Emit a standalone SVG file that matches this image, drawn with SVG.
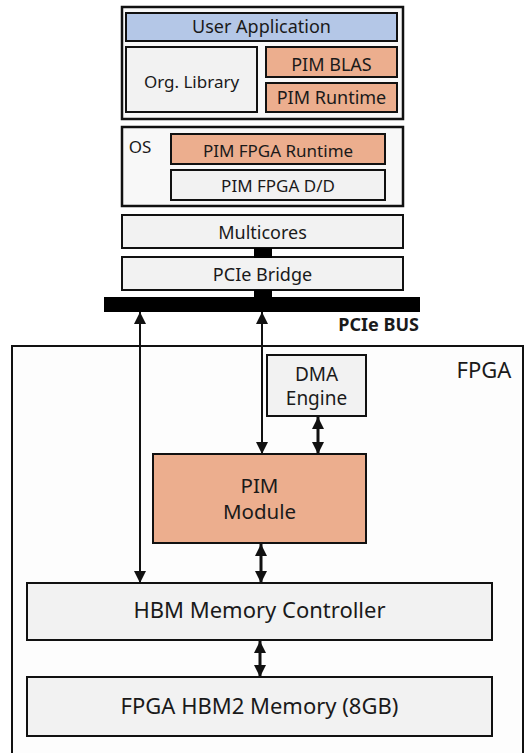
<svg xmlns="http://www.w3.org/2000/svg" width="526" height="753" viewBox="0 0 526 753">
  <defs>
    <style>
      text { font-family: "Noto Sans", "Open Sans", "Liberation Sans", sans-serif; fill: #1a1a1a; text-anchor: middle; }
      .frame { fill: #f8f8f8; stroke: #111; stroke-width: 2.5; }
      .gray { fill: #f2f2f2; stroke: #111; stroke-width: 2; }
      .blue { fill: #b4c7e7; stroke: #111; stroke-width: 2; }
      .orange { fill: #ecae8e; stroke: #111; stroke-width: 2; }
      .link { stroke: #111; stroke-width: 2; fill: none; }
      .thick { stroke: #111; stroke-width: 3; fill: none; }
    </style>
    <marker id="head" viewBox="0 0 12 12" markerUnits="userSpaceOnUse" markerWidth="12" markerHeight="13" refX="12" refY="6" orient="auto-start-reverse">
      <path d="M0,0 L12,6 L0,12 z" fill="#111"/>
    </marker>
  </defs>

  <rect width="526" height="753" fill="#ffffff"/>

  <!-- FPGA container -->
  <g id="fpga">
    <rect x="12" y="346" width="511" height="420" fill="#fdfdfd" stroke="#111" stroke-width="2"/>
    <text x="484" y="378" font-size="22">FPGA</text>
  </g>

  <!-- host software stack -->
  <g id="app-stack">
    <rect class="frame" x="122" y="7" width="281" height="112"/>
  </g>
  <g id="user-application">
    <rect class="blue" x="126" y="13" width="271" height="28"/>
    <text x="261.5" y="33" font-size="18">User Application</text>
  </g>
  <g id="org-library">
    <rect class="gray" x="126" y="47" width="131" height="65"/>
    <text x="191.5" y="88" font-size="17">Org. Library</text>
  </g>
  <g id="pim-blas">
    <rect class="orange" x="266" y="47" width="131" height="30"/>
    <text x="331.5" y="71" font-size="18">PIM BLAS</text>
  </g>
  <g id="pim-runtime">
    <rect class="orange" x="266" y="83" width="131" height="29"/>
    <text x="331.5" y="104" font-size="18">PIM Runtime</text>
  </g>

  <g id="os">
    <rect class="frame" x="122" y="127" width="281" height="79"/>
    <text x="140" y="153" font-size="17">OS</text>
  </g>
  <g id="pim-fpga-runtime">
    <rect class="orange" x="171" y="134" width="214" height="30"/>
    <text x="278" y="157" font-size="17">PIM FPGA Runtime</text>
  </g>
  <g id="pim-fpga-dd">
    <rect class="gray" x="171" y="170" width="214" height="30"/>
    <text x="278" y="192" font-size="17">PIM FPGA D/D</text>
  </g>

  <g id="multicores">
    <rect class="gray" x="122" y="215" width="281" height="33"/>
    <text x="262.5" y="239" font-size="18">Multicores</text>
  </g>
  <g id="pcie-bridge">
    <rect class="gray" x="122" y="257" width="281" height="33"/>
    <text x="262.5" y="281" font-size="18">PCIe Bridge</text>
  </g>

  <g id="pcie-bus">
    <rect x="104" y="297" width="316" height="15" fill="#000"/>
    <text x="419" y="331" font-size="18" font-weight="bold" style="text-anchor:end" font-family="'Liberation Sans', sans-serif">PCIe BUS</text>
  </g>

  <!-- FPGA blocks -->
  <g id="dma-engine">
    <rect class="gray" x="267" y="355" width="99" height="61"/>
    <text x="316.5" y="381" font-size="19">DMA<tspan x="316.5" dy="24">Engine</tspan></text>
  </g>
  <g id="pim-module">
    <rect class="orange" x="153" y="454" width="213" height="89"/>
    <text x="259.5" y="493" font-size="20.5">PIM<tspan x="259.5" dy="26">Module</tspan></text>
  </g>
  <g id="hbm-controller">
    <rect class="gray" x="27" y="583" width="465" height="57"/>
    <text x="259.5" y="618" font-size="22">HBM Memory Controller</text>
  </g>
  <g id="hbm2-memory">
    <rect class="gray" x="27" y="677" width="465" height="59"/>
    <text x="259.5" y="714" font-size="22">FPGA HBM2 Memory (8GB)</text>
  </g>

  <!-- connectors -->
  <g id="connectors">
    <rect x="254" y="248" width="18" height="10" fill="#000"/>
    <rect x="254" y="290" width="18" height="8" fill="#000"/>
    <line class="link" x1="140" y1="312" x2="140" y2="583" marker-start="url(#head)" marker-end="url(#head)"/>
    <line class="link" x1="262" y1="312" x2="262" y2="454" marker-start="url(#head)" marker-end="url(#head)"/>
    <line class="thick" x1="318" y1="417" x2="318" y2="454" marker-start="url(#head)" marker-end="url(#head)"/>
    <line class="thick" x1="261" y1="544" x2="261" y2="583" marker-start="url(#head)" marker-end="url(#head)"/>
    <line class="thick" x1="260" y1="641" x2="260" y2="677" marker-start="url(#head)" marker-end="url(#head)"/>
  </g>
</svg>
